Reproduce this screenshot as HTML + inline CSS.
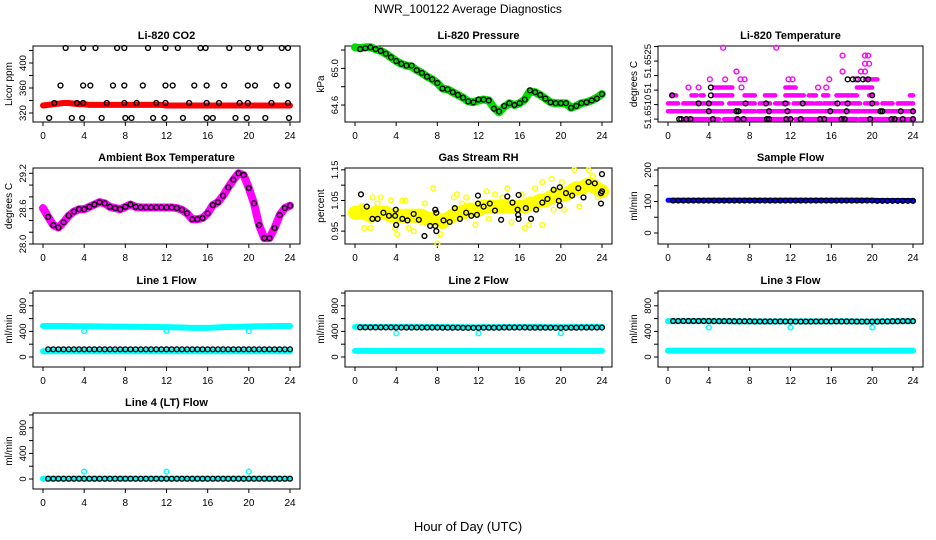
<!DOCTYPE html>
<html><head><meta charset="utf-8"><style>
html,body{margin:0;padding:0;background:#fff;}
svg{display:block;font-family:"Liberation Sans",sans-serif;}
</style></head><body>
<svg id="chart" width="936" height="540" viewBox="0 0 936 540" xmlns="http://www.w3.org/2000/svg">
<rect x="0" y="0" width="936" height="540" fill="#fff"/>
<text x="468" y="13" font-size="12" text-anchor="middle">NWR_100122  Average Diagnostics</text>
<text x="468" y="531" font-size="13" text-anchor="middle">Hour of Day (UTC)</text>
</svg>
<script>
const halfHours=[0,0.5,1,1.5,2,2.5,3,3.5,4,4.5,5,5.5,6,6.5,7,7.5,8,8.5,9,9.5,10,10.5,11,11.5,12,12.5,13,13.5,14,14.5,15,15.5,16,16.5,17,17.5,18,18.5,19,19.5,20,20.5,21,21.5,22,22.5,23,23.5,24];
const blackHours=[0.5,1,1.5,2,2.5,3,3.5,4,4.5,5,5.5,6,6.5,7,7.5,8,8.5,9,9.5,10,10.5,11,11.5,12,12.5,13,13.5,14,14.5,15,15.5,16,16.5,17,17.5,18,18.5,19,19.5,20,20.5,21,21.5,22,22.5,23,23.5,24];
const xTicks=[0,4,8,12,16,20,24];
const dipHours=[4,12,20];

// CO2
const co2Red=[332,333,334,335,336,336,335,334,334,333,333,333,333,333,333,333,333,333,333,333,333,333,333,333,332,332,332,332,332,332,332,332,332,332,332,332,332,332,332,332,332,332,332,332,332,332,332,332,332];
const co2BlackHours=[2.2,3.9,5.1,7.2,7.9,10.2,11.9,13.1,15.3,15.8,18.1,19.9,21.1,23.2,23.8,1.7,3.9,4.6,6.8,7.9,9.7,11.9,12.6,14.7,15.9,17.6,19.9,20.6,22.7,23.8,1.1,3.3,3.9,6.2,7.9,9.1,11.0,11.9,14.2,15.9,17.1,19.1,19.9,22.2,23.8,0.6,2.8,3.8,5.7,8.0,8.6,10.7,11.8,13.6,15.9,16.5,18.7,19.8,21.6,23.9];
const co2BlackValues=[424,424,424,424,424,424,424,424,424,424,424,424,424,424,424,364,364,364,364,364,364,364,364,364,364,364,364,364,364,364,336,336,336,336,336,336,336,336,336,336,336,336,336,336,336,312,312,312,312,312,312,312,312,312,312,312,312,312,312,312];

// Pressure
const pressGreen=[65.23,65.22,65.23,65.23,65.21,65.19,65.16,65.12,65.08,65.05,65.03,65.02,64.98,64.95,64.91,64.88,64.84,64.78,64.77,64.74,64.71,64.68,64.64,64.63,64.65,64.66,64.65,64.57,64.52,64.58,64.62,64.60,64.62,64.66,64.75,64.74,64.71,64.67,64.63,64.62,64.62,64.62,64.57,64.59,64.62,64.63,64.65,64.68,64.72];
const pressBlack=[65.21,65.22,65.23,65.21,65.19,65.16,65.12,65.08,65.05,65.03,65.03,64.98,64.95,64.91,64.88,64.84,64.78,64.77,64.74,64.71,64.68,64.64,64.63,64.66,64.66,64.65,64.56,64.53,64.59,64.62,64.60,64.62,64.66,64.76,64.74,64.71,64.67,64.63,64.62,64.62,64.62,64.57,64.59,64.62,64.63,64.65,64.67,64.72];

// Li-820 temperature
const tempLevels=[51.65050,51.65077,51.65104,51.65132,51.65159,51.65187,51.65214,51.65241,51.65269,51.65296];
const tempRunStart=[1.5,5.5,12.5,18.8,0,1.2,5,8.8,12.3,15,19,0,1.5,4,6,7.7,9,10.5,12.3,13.4,14.5,15.3,17,19.3,21,22.5,0.4,2.3,3.2,4.5,7.5,9.5,11.5,13.8,15.2,16.5,17.4,19.7,23.7,4.5,11.5,18.5,19.3];
const tempRunEnd=[5,12,18.5,24,1,4.8,8.5,12.1,14.8,18.8,24,1,3.8,5.3,7.4,8.5,10,11.8,13,14.2,15,16.5,18.8,20.5,22,24,0.8,2.8,3.5,6.3,8.5,10.5,13.3,14.5,15.7,17.2,18.5,20,24,6.3,12.5,20,20.5];
const tempRunLevel=[0,0,0,0,1,1,1,1,1,1,1,2,2,2,2,2,2,2,2,2,2,2,2,2,2,2,3,3,3,3,3,3,3,3,3,3,3,3,3,4,4,4,5];
const tempPinkHours=[2,3,7.2,14.7,15.5,4.1,5.6,7.1,7.5,11.8,12.2,15.8,18.4,6.7,17.1,18.9,19.3,19.3,19.7,17.1,19.3,19.6,5.4,10.6];
const tempPinkLevels=[4,4,4,4,4,5,5,5,5,5,5,5,5,6,6,6,6,7,7,8,8,8,9,9];
const tempBlackHours=[1.1,1.3,1.8,2.2,4.4,6.8,7.4,9.7,9.9,11.6,12.0,13.0,14.9,15.3,17.0,17.3,19.8,21.9,22.2,23.0,24.0,4.0,6.7,6.9,9.9,11.7,15.9,17.5,20.8,21.0,22.8,24.0,3.0,4.0,7.6,9.6,11.5,13.2,16.6,17.6,20.0,0.4,4.2,20.0,4.2,17.6,18.1,18.6,19.1,19.6];
const tempBlackLevels=[0,0,0,0,0,0,0,0,0,0,0,0,0,0,0,0,0,0,0,0,0,1,1,1,1,1,1,1,1,1,1,1,2,2,2,2,2,2,2,2,2,3,3,3,4,5,5,5,5,5];

// Ambient box temperature
const ambientBand=[28.61,28.46,28.32,28.28,28.37,28.48,28.55,28.59,28.59,28.63,28.67,28.71,28.69,28.63,28.61,28.59,28.63,28.67,28.63,28.62,28.62,28.62,28.62,28.62,28.62,28.62,28.61,28.58,28.52,28.42,28.42,28.44,28.52,28.66,28.71,28.82,28.96,29.09,29.20,29.17,28.95,28.69,28.32,28.10,28.10,28.27,28.49,28.61,28.65];
const ambientBlack=[28.46,28.32,28.28,28.37,28.48,28.55,28.59,28.59,28.63,28.67,28.71,28.69,28.63,28.61,28.59,28.63,28.67,28.63,28.62,28.62,28.62,28.62,28.62,28.62,28.62,28.61,28.58,28.52,28.42,28.42,28.44,28.52,28.66,28.71,28.82,28.96,29.09,29.20,29.17,28.95,28.69,28.32,28.10,28.10,28.27,28.49,28.61,28.65];

// Gas stream RH
const rhBand=[1.01,1.01,1.01,1.00,1.01,1.01,1.01,1.00,1.00,1.00,1.00,1.00,1.00,1.00,0.99,0.99,0.99,0.98,0.99,1.00,1.01,1.01,1.02,1.02,1.02,1.03,1.03,1.03,1.03,1.03,1.03,1.03,1.03,1.03,1.04,1.04,1.05,1.05,1.06,1.07,1.07,1.07,1.08,1.09,1.09,1.10,1.10,1.09,1.08];
const rhYellowHours=[0.9,1.5,1.7,2.5,3.5,3.9,4.1,4.6,4.9,5.2,5.7,6.8,7.6,8.0,8.3,9.6,9.9,10.8,11.7,12.8,13.6,14.8,15.2,16.5,16.9,17.5,18.2,18.2,19.1,19.3,20.3,20.1,21.3,21.8,22.7,23.1,23.6,0.6,2.2,5.5,6.4,10.4,13.0,14.3,16.2,17.8,19.6,22.0];
const rhYellowValues=[0.96,0.96,1.06,1.06,1.05,0.96,0.94,1.05,1.05,0.96,0.95,1.04,1.09,0.91,0.94,1.06,1.07,1.06,0.97,1.08,1.07,1.09,0.98,0.96,0.97,1.09,0.97,1.11,1.12,1.02,1.02,1.11,1.15,1.03,1.15,1.13,1.06,1.03,1.04,1.0,0.98,1.04,0.99,1.06,1.07,1.05,1.05,1.08];
const rhBlackHours=[0.58,1.14,1.69,2.2,2.76,3.3,3.9,3.96,4.0,4.6,5.1,5.7,6.2,6.75,7.3,7.8,7.8,7.9,7.9,8.6,9.2,9.7,10.2,10.8,11.3,11.85,11.95,11.95,12.5,13.1,13.6,14.2,14.8,15.3,15.8,15.85,15.9,15.9,16.6,17.1,17.6,18.2,18.7,19.3,19.8,19.9,19.9,20.5,21.1,21.7,22.2,22.7,23.3,23.9,23.9,24.0,24.0];
const rhBlackValues=[1.07,1.03,0.99,0.99,1.01,1.0,1.0,1.02,0.97,0.99,0.985,1.006,0.987,0.934,0.967,0.967,1.02,1.01,0.95,0.985,0.98,1.025,0.99,1.01,1.0,1.003,1.066,1.04,1.03,1.04,1.017,0.987,1.063,1.043,1.02,1.003,0.99,1.068,1.025,0.99,1.02,1.043,1.055,1.085,1.049,1.033,1.093,1.074,1.066,1.09,1.06,1.11,1.106,1.04,1.074,1.136,1.08];

// Sample flow
const sampleBlue=[104,104,104,104,104,104,104,104,104,104,104,104,104,104,104,104,104,104,104,104,104,104,104,104,104,104,104,104,104,104,104,104,104,104,104,104,104,104,104,104,104,103,103,103,103,103,103,103,103];
const sampleBlack=[103,103,103,103,103,103,103,103,103,103,103,103,103,103,103,103,103,103,103,103,103,103,103,103,103,103,103,103,103,103,103,103,103,103,103,103,103,103,103,103,102,102,102,102,102,102,102,102];

// Line flows
const line1Upper=[485,485,485,484,484,483,482,481,480,480,479,478,477,476,475,474,474,473,472,471,470,469,468,467,466,464,462,460,458,456,455,455,455,458,462,466,468,470,472,474,476,478,480,481,482,483,484,485,485];
const line1Lower=[90,90,90,90,90,90,90,90,90,90,90,90,90,90,90,90,90,90,90,90,90,90,90,90,90,90,90,90,90,90,90,90,90,90,90,90,90,90,90,90,90,90,90,90,90,90,90,90,90];
const line1Black=[120,120,120,120,120,120,120,120,120,120,120,120,120,120,120,120,120,120,120,120,120,120,120,120,120,120,120,120,120,120,120,120,120,120,120,120,120,120,120,120,120,120,120,120,120,120,120,120];
const line1Dips=[405,410,405];
const line2Upper=[470,470,470,470,470,470,470,470,470,472,472,472,472,472,470,470,470,468,468,466,466,466,464,464,464,466,466,466,466,468,468,470,470,470,470,468,468,466,466,466,466,466,468,468,470,470,472,472,470];
const line2Lower=[95,95,95,95,95,95,95,95,95,95,95,95,95,95,95,95,95,95,95,95,95,95,95,95,95,95,95,95,95,95,95,95,95,95,95,95,95,95,95,95,95,95,95,95,95,95,95,95,95];
const line2Black=[462,462,462,462,462,462,462,460,460,460,460,460,460,460,460,460,458,458,458,458,456,456,456,456,458,458,458,458,460,460,460,460,460,458,458,458,458,458,456,456,456,458,458,460,460,460,460,460];
const line2Dips=[370,370,370];
const line3Upper=[560,560,560,560,560,560,560,560,560,560,560,558,558,558,556,556,556,556,556,556,556,556,556,556,556,556,556,556,556,556,556,556,556,558,558,558,556,556,554,554,554,556,556,558,558,560,560,560,560];
const line3Lower=[100,100,100,100,100,100,100,100,100,100,100,100,100,100,100,100,100,100,100,100,100,100,100,100,100,100,100,100,100,100,100,100,100,100,100,100,100,100,100,100,100,100,100,100,100,100,100,100,100];
const line3Black=[562,562,562,562,562,562,562,562,560,560,560,560,558,558,558,558,556,556,556,556,556,556,556,556,554,554,554,554,556,556,556,556,556,556,556,556,554,554,554,554,554,556,556,558,558,560,560,560];
const line3Dips=[460,460,460];
const line4Cyan=[5,5,5,5,5,5,5,5,5,5,5,5,5,5,5,5,5,5,5,5,5,5,5,5,5,5,5,5,5,5,5,5,5,5,5,5,5,5,5,5,5,5,5,5,5,5,5,5,5];
const line4Black=[5,5,5,5,5,5,5,5,5,5,5,5,5,5,5,5,5,5,5,5,5,5,5,5,5,5,5,5,5,5,5,5,5,5,5,5,5,5,5,5,5,5,5,5,5,5,5,5];
const line4Dips=[115,115,115];

const flowTicks=[0,200,400,600,800,1000];
const flowLabels=[0,400,800];

const NS="http://www.w3.org/2000/svg";
const svg=document.getElementById('chart');
const lefts=[33,345,658], rights=[300,612,923], bottoms=[122,244,367,489];
const H=76;

function el(tag,parent){const e=document.createElementNS(NS,tag);parent.appendChild(e);return e;}

function panel(name,col,row,lo,hi,ticks,labVals,labTexts,title,ytitle){
  const L=lefts[col],R=rights[col],B=bottoms[row],T=B-H;
  const g=el('g',svg);
  
  
  const x=h=>L+10+h*(R-L-20)/24;
  const y=v=>B-(v-lo)/(hi-lo)*H;
  const box=el('rect',g);
  box.setAttribute('x',L);box.setAttribute('y',T);box.setAttribute('width',R-L);box.setAttribute('height',H);
  box.setAttribute('fill','none');box.setAttribute('stroke','#000');box.setAttribute('stroke-width','1');
  
  
  const t=el('text',g);
  t.setAttribute('x',(L+R)/2);t.setAttribute('y',T-7);t.setAttribute('font-size','11');t.setAttribute('font-weight','bold');t.setAttribute('text-anchor','middle');
  t.textContent=title;
  
  
  const yt=el('text',g);
  yt.setAttribute('transform','rotate(-90 '+(L-21)+' '+(T+H/2)+')');
  yt.setAttribute('x',L-21);yt.setAttribute('y',T+H/2);yt.setAttribute('font-size','10');yt.setAttribute('text-anchor','middle');
  yt.textContent=ytitle;
  
  
  xTicks.forEach(h=>{
    const l=el('line',g);
    l.setAttribute('x1',x(h));l.setAttribute('x2',x(h));l.setAttribute('y1',B);l.setAttribute('y2',B+4);l.setAttribute('stroke','#000');
    
    
    const tx=el('text',g);
    tx.setAttribute('x',x(h));tx.setAttribute('y',B+17);tx.setAttribute('font-size','10');tx.setAttribute('text-anchor','middle');
    tx.textContent=h;
    
    
  });
  ticks.forEach(v=>{
    const l=el('line',g);
    l.setAttribute('x1',L-4);l.setAttribute('x2',L);l.setAttribute('y1',y(v));l.setAttribute('y2',y(v));l.setAttribute('stroke','#000');
    
    
  });
  labVals.forEach((v,i)=>{
    const tx=el('text',g);
    tx.setAttribute('transform','rotate(-90 '+(L-7)+' '+y(v)+')');
    tx.setAttribute('x',L-7);tx.setAttribute('y',y(v));tx.setAttribute('font-size','9.5');tx.setAttribute('text-anchor','middle');
    tx.textContent=labTexts[i];
    
    
  });
  return {x,y,g};
}

function band(p,hours,vals,color,w,name){
  const pl=el('polyline',p.g);
  pl.setAttribute('points',hours.map((h,i)=>p.x(h)+','+p.y(vals[i])).join(' '));
  pl.setAttribute('fill','none');pl.setAttribute('stroke',color);pl.setAttribute('stroke-width',w);
  pl.setAttribute('stroke-linejoin','round');pl.setAttribute('stroke-linecap','round');
  
  
}
function pts(p,hours,vals,color,name){
  hours.forEach((h,i)=>{
    const c=el('circle',p.g);
    c.setAttribute('cx',p.x(h));c.setAttribute('cy',p.y(vals[i]));c.setAttribute('r','2.4');
    c.setAttribute('fill','none');c.setAttribute('stroke',color);c.setAttribute('stroke-width','1.4');
    
    
  });
}
function runs(p,starts,ends,levels,color,name){
  starts.forEach((s,i)=>{
    const l=el('line',p.g);
    l.setAttribute('x1',p.x(s));l.setAttribute('x2',p.x(ends[i]));
    l.setAttribute('y1',p.y(tempLevels[levels[i]]));l.setAttribute('y2',p.y(tempLevels[levels[i]]));
    l.setAttribute('stroke',color);l.setAttribute('stroke-width','4.5');l.setAttribute('stroke-linecap','round');
    
    
  });
}

// Panel 1: CO2
let p=panel('co2-panel',0,0,305.6,427.2,[320,340,360,380,400,420],[320,360,400],['320','360','400'],'Li-820 CO2','Licor ppm');
band(p,halfHours,co2Red,'#ff0000',6,'co2-red-series');
pts(p,co2BlackHours,co2BlackValues,'#000','co2-average-point');

// Panel 2: Pressure
p=panel('pressure-panel',1,0,64.415,65.244,[64.6,64.8,65.0,65.2],[64.6,65.0],['64.6','65.0'],'Li-820 Pressure','kPa');
band(p,halfHours,pressGreen,'#00dd00',8,'pressure-green-series');
pts(p,blackHours,pressBlack,'#000','pressure-average-point');

// Panel 3: Li-820 temperature
p=panel('li820-temp-panel',2,0,51.65040,51.65302,[51.6505,51.6510,51.6515,51.6520,51.6525,51.6530],[51.65075,51.65157,51.6525],['51.6510','51','51.6525'],'Li-820 Temperature','degrees C');
runs(p,tempRunStart,tempRunEnd,tempRunLevel,'#ff00ff','temp-magenta-run');
pts(p,tempPinkHours,tempPinkLevels.map(k=>tempLevels[k]),'#ff00ff','temp-magenta-point');
pts(p,tempBlackHours,tempBlackLevels.map(k=>tempLevels[k]),'#000','temp-average-point');

// Panel 4: Ambient
p=panel('ambient-temp-panel',0,1,28.0,29.29,[28.0,28.2,28.4,28.6,28.8,29.0,29.2],[28.0,28.6,29.2],['28.0','28.6','29.2'],'Ambient Box Temperature','degrees C');
band(p,halfHours,ambientBand,'#ff00ff',8,'ambient-magenta-series');
pts(p,blackHours,ambientBlack,'#000','ambient-average-point');

// Panel 5: RH
p=panel('rh-panel',1,1,0.908,1.156,[0.95,1.0,1.05,1.1,1.15],[0.95,1.05,1.15],['0.95','1.05','1.15'],'Gas Stream RH','percent');
band(p,halfHours,rhBand,'#ffff00',14,'rh-yellow-series');
pts(p,rhYellowHours,rhYellowValues,'#ffff00','rh-yellow-point');
pts(p,rhBlackHours,rhBlackValues,'#000','rh-average-point');

// Panel 6: Sample flow
p=panel('sample-flow-panel',2,1,-34.9,206.3,[0,50,100,150,200],[0,100,200],['0','100','200'],'Sample Flow','ml/min');
band(p,halfHours,sampleBlue,'#0000ff',5,'sample-blue-series');
pts(p,blackHours,sampleBlack,'#000','sample-average-point');

// Line flows
const flowSpecs=[
 ['line1-flow-panel',0,2,'Line 1 Flow',line1Upper,line1Lower,line1Black,line1Dips],
 ['line2-flow-panel',1,2,'Line 2 Flow',line2Upper,line2Lower,line2Black,line2Dips],
 ['line3-flow-panel',2,2,'Line 3 Flow',line3Upper,line3Lower,line3Black,line3Dips]
];
flowSpecs.forEach(s=>{
  const q=panel(s[0],s[1],s[2],-156,1031,flowTicks,flowLabels,flowLabels.map(String),s[3],'ml/min');
  band(q,halfHours,s[4],'#00ffff',6,'flow-cyan-upper');
  band(q,halfHours,s[5],'#00ffff',6,'flow-cyan-lower');
  pts(q,dipHours,s[7],'#00ffff','flow-dip-point');
  pts(q,blackHours,s[6],'#000','flow-average-point');
});
p=panel('line4-flow-panel',0,3,-156,1031,flowTicks,flowLabels,flowLabels.map(String),'Line 4 (LT) Flow','ml/min');
band(p,halfHours,line4Cyan,'#00ffff',6,'line4-cyan-series');
pts(p,dipHours,line4Dips,'#00ffff','line4-dip-point');
pts(p,blackHours,line4Black,'#000','line4-average-point');
</script>
</body></html>
